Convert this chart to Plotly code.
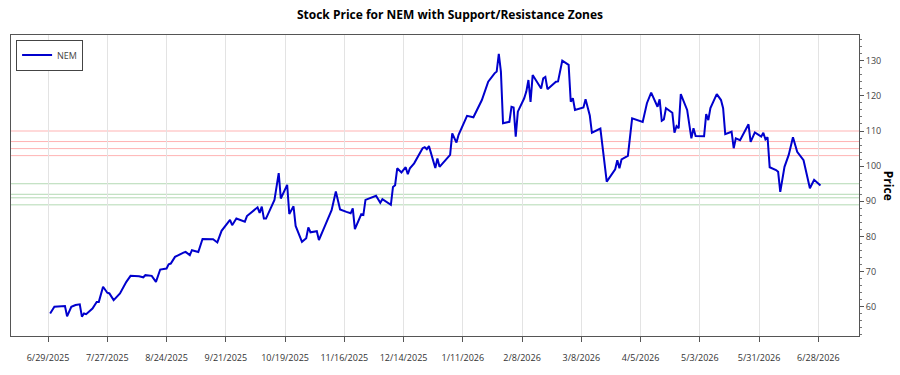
import plotly.graph_objects as go

dates = [
    "2025-06-30", "2025-07-02", "2025-07-07", "2025-07-08", "2025-07-10", "2025-07-12",
    "2025-07-14", "2025-07-15", "2025-07-16", "2025-07-17", "2025-07-20", "2025-07-22",
    "2025-07-23", "2025-07-25", "2025-07-27", "2025-07-28", "2025-07-30", "2025-08-02",
    "2025-08-05", "2025-08-07", "2025-08-11", "2025-08-13", "2025-08-14", "2025-08-17",
    "2025-08-19", "2025-08-21", "2025-08-24", "2025-08-25", "2025-08-26", "2025-08-28",
    "2025-09-01", "2025-09-02", "2025-09-04", "2025-09-05", "2025-09-08", "2025-09-10",
    "2025-09-15", "2025-09-17", "2025-09-19", "2025-09-23", "2025-09-24", "2025-09-26",
    "2025-09-30", "2025-10-01", "2025-10-06", "2025-10-07", "2025-10-08", "2025-10-09",
    "2025-10-10", "2025-10-14", "2025-10-16", "2025-10-17", "2025-10-20", "2025-10-21",
    "2025-10-23", "2025-10-24", "2025-10-27", "2025-10-29", "2025-10-30", "2025-10-31",
    "2025-11-03", "2025-11-04", "2025-11-07", "2025-11-10", "2025-11-12", "2025-11-14",
    "2025-11-17", "2025-11-19", "2025-11-20", "2025-11-21", "2025-11-24", "2025-11-25",
    "2025-11-26", "2025-11-28", "2025-12-01", "2025-12-03", "2025-12-04", "2025-12-08",
    "2025-12-09", "2025-12-10", "2025-12-11", "2025-12-13", "2025-12-15", "2025-12-16",
    "2025-12-17", "2025-12-19", "2025-12-23", "2025-12-24", "2025-12-25", "2025-12-26",
    "2025-12-29", "2025-12-30", "2025-12-31", "2026-01-05", "2026-01-06", "2026-01-08",
    "2026-01-09", "2026-01-13", "2026-01-16", "2026-01-20", "2026-01-23", "2026-01-26",
    "2026-01-27", "2026-01-28", "2026-01-29", "2026-01-30", "2026-02-02", "2026-02-03",
    "2026-02-04", "2026-02-05", "2026-02-06", "2026-02-09", "2026-02-10", "2026-02-11",
    "2026-02-12", "2026-02-13", "2026-02-17", "2026-02-18", "2026-02-19", "2026-02-20",
    "2026-02-24", "2026-02-25", "2026-02-27", "2026-03-02", "2026-03-03", "2026-03-04",
    "2026-03-05", "2026-03-09", "2026-03-10", "2026-03-12", "2026-03-13", "2026-03-17",
    "2026-03-20", "2026-03-24", "2026-03-25", "2026-03-26", "2026-03-27", "2026-03-30",
    "2026-04-01", "2026-04-06", "2026-04-08", "2026-04-10", "2026-04-13", "2026-04-14",
    "2026-04-15", "2026-04-16", "2026-04-17", "2026-04-20", "2026-04-21", "2026-04-22",
    "2026-04-23", "2026-04-24", "2026-04-27", "2026-04-29", "2026-04-30", "2026-05-01",
    "2026-05-05", "2026-05-06", "2026-05-07", "2026-05-08", "2026-05-11", "2026-05-13",
    "2026-05-14", "2026-05-15", "2026-05-18", "2026-05-19", "2026-05-20", "2026-05-22",
    "2026-05-26", "2026-05-27", "2026-05-29", "2026-06-01", "2026-06-02", "2026-06-03",
    "2026-06-04", "2026-06-05", "2026-06-08", "2026-06-09", "2026-06-10", "2026-06-12",
    "2026-06-14", "2026-06-16", "2026-06-18", "2026-06-21", "2026-06-24", "2026-06-26",
    "2026-06-29",
]

prices = [
    58.1, 60.0, 60.2, 57.3, 60.0, 60.5,
    60.7, 57.2, 58.1, 57.9, 59.5, 61.4,
    61.4, 65.7, 64.0, 63.8, 61.9, 63.8,
    67.1, 68.8, 68.7, 68.4, 69.0, 68.8,
    67.1, 70.6, 70.9, 72.1, 72.3, 74.2,
    75.4, 75.6, 74.7, 76.1, 75.6, 79.3,
    79.2, 78.3, 81.6, 84.7, 83.2, 85.1,
    84.2, 85.8, 88.3, 86.7, 88.5, 85.1,
    85.1, 90.4, 98.0, 90.8, 94.7, 86.4,
    88.6, 83.0, 78.5, 79.5, 82.6, 81.2,
    81.5, 79.0, 83.2, 87.5, 92.8, 87.7,
    87.0, 86.6, 88.0, 82.1, 86.3, 86.1,
    90.4, 90.8, 91.6, 89.6, 90.6, 89.0,
    94.1, 94.6, 99.4, 98.2, 99.7, 97.7,
    99.4, 100.8, 105.1, 105.4, 104.8, 105.7,
    99.5, 102.2, 99.8, 103.2, 109.3, 106.7,
    108.9, 114.3, 113.9, 118.8, 124.0, 126.4,
    126.9, 131.9, 126.9, 112.2, 112.6, 116.9,
    116.7, 108.4, 115.5, 119.3, 121.2, 124.5,
    118.3, 125.9, 122.1, 125.0, 125.4, 121.9,
    124.0, 124.1, 130.0, 128.8, 118.3, 119.3,
    116.0, 116.7, 119.0, 114.4, 109.5, 110.7,
    95.6, 99.1, 101.7, 99.4, 101.9, 102.9,
    113.6, 112.6, 117.9, 120.9, 116.9, 119.0,
    112.9, 113.3, 116.5, 115.2, 109.5, 111.4,
    110.8, 120.5, 116.0, 107.9, 110.8, 108.6,
    108.5, 114.8, 113.1, 116.5, 120.5, 118.8,
    116.5, 109.1, 109.8, 105.1, 107.9, 107.4,
    111.9, 106.9, 109.6, 108.4, 109.5, 107.6,
    108.2, 99.7, 98.9, 98.4, 92.7, 99.8,
    103.2, 108.2, 104.1, 101.7, 93.7, 96.1,
    94.5,
]

resistance_levels = [110, 107, 105, 103]
support_levels = [95, 92, 91, 89]

tick_dates = [
    "2025-06-29", "2025-07-27", "2025-08-24", "2025-09-21", "2025-10-19",
    "2025-11-16", "2025-12-14", "2026-01-11", "2026-02-08", "2026-03-08",
    "2026-04-05", "2026-05-03", "2026-05-31", "2026-06-28",
]
tick_labels = [
    "6/29/2025", "7/27/2025", "8/24/2025", "9/21/2025", "10/19/2025",
    "11/16/2025", "12/14/2025", "1/11/2026", "2/8/2026", "3/8/2026",
    "4/5/2026", "5/3/2026", "5/31/2026", "6/28/2026",
]

FONT = "Open Sans"

fig = go.Figure()

for lvl in resistance_levels:
    fig.add_hline(y=lvl, line=dict(color="rgba(255,0,0,0.3)", width=1), layer="below")
for lvl in support_levels:
    fig.add_hline(y=lvl, line=dict(color="rgba(0,128,0,0.3)", width=1), layer="below")

fig.add_trace(go.Scatter(
    x=dates, y=prices, mode="lines", name="NEM",
    line=dict(color="#0000CD", width=2),
))

fig.update_layout(
    width=900, height=375,
    margin=dict(l=11, r=41, t=35, b=39),
    paper_bgcolor="white", plot_bgcolor="white",
    font=dict(family=FONT, size=9, color="#444444"),
    title=dict(
        text="<b>Stock Price for NEM with Support/Resistance Zones</b>",
        x=0.5, xanchor="center", y=1 - 15 / 375, yanchor="middle",
        font=dict(family=FONT, size=12, color="#000000"),
    ),
    showlegend=True,
    legend=dict(
        x=0.006, y=0.985, xanchor="left", yanchor="top",
        bgcolor="white", bordercolor="#444444", borderwidth=1,
        font=dict(family=FONT, size=9, color="#444444"),
        itemwidth=30,
    ),
    xaxis=dict(
        type="date",
        range=["2025-06-11 12:00", "2026-07-17 05:00"],
        tickmode="array", tickvals=tick_dates, ticktext=tick_labels,
        showgrid=True, gridcolor="#e3e3e3", gridwidth=1,
        ticks="outside", ticklen=5, tickcolor="#555555",
        showline=True, linecolor="#555555", linewidth=1, mirror=True,
        zeroline=False,
        tickfont=dict(family=FONT, size=9, color="#333333"),
        ticklabelstandoff=8,
    ),
    yaxis=dict(
        side="right",
        range=[51.7, 137.3],
        tickmode="linear", tick0=60, dtick=10,
        showgrid=False, zeroline=False,
        ticks="outside", ticklen=4, tickcolor="#555555",
        minor=dict(ticks="outside", ticklen=2, dtick=2, tickcolor="#777777", showgrid=False),
        showline=True, linecolor="#555555", linewidth=1, mirror=True,
        tickfont=dict(family=FONT, size=9, color="#444444"),
    ),
    annotations=[dict(
        text="<b>Price</b>", xref="paper", yref="paper",
        x=1.035, y=0.5, xanchor="center", yanchor="middle",
        textangle=90, showarrow=False,
        font=dict(family=FONT, size=12, color="#000000"),
    )],
)

fig.write_html("out.html")
